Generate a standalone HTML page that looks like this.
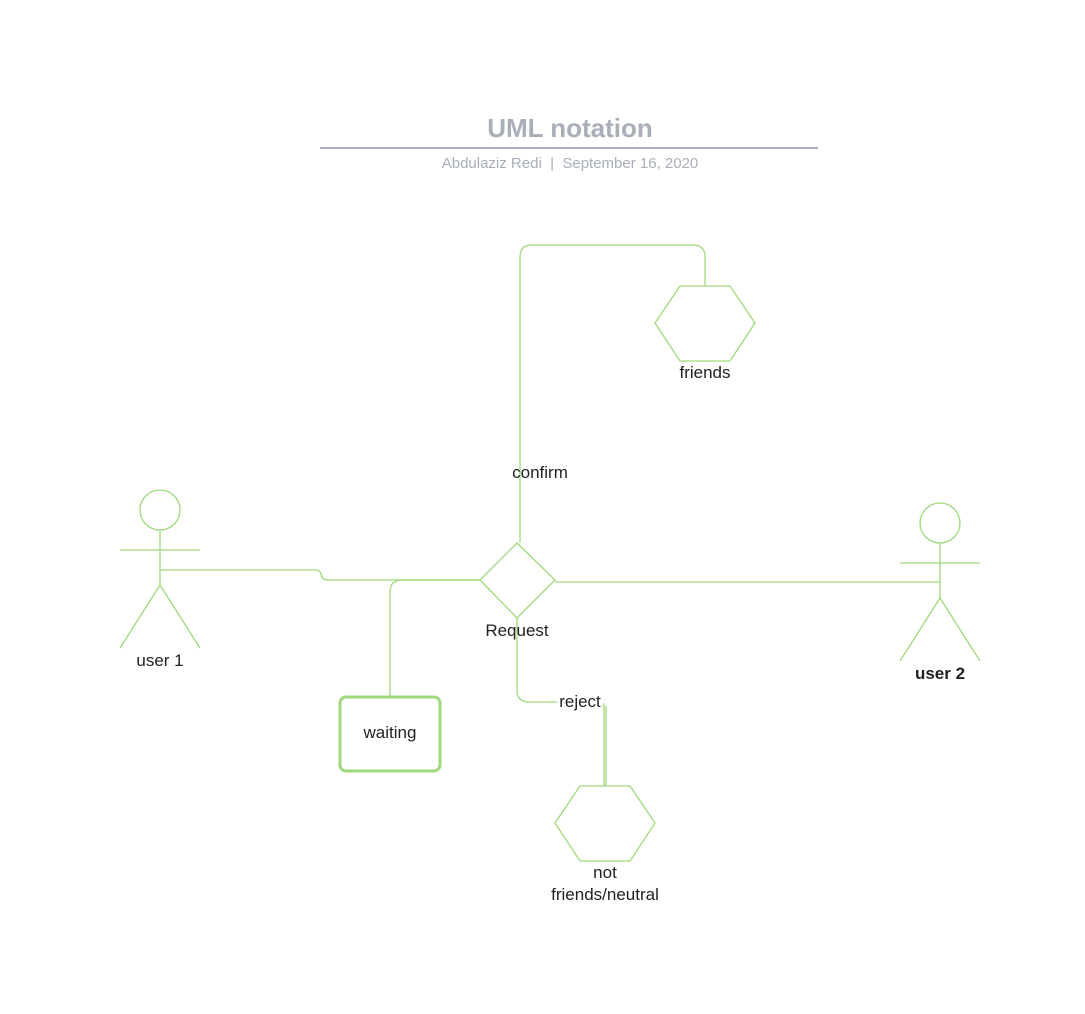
<!DOCTYPE html>
<html><head><style>
html,body{margin:0;padding:0;background:#fff;width:1085px;height:1014px;overflow:hidden}
svg{display:block}
text{font-family:"Liberation Sans",sans-serif}
</style></head><body>
<svg width="1085" height="1014" viewBox="0 0 1085 1014" xmlns="http://www.w3.org/2000/svg">
<text x="570" y="137" text-anchor="middle" font-size="26" font-weight="bold" fill="#a9aeb8">UML notation</text>
<line x1="320" y1="148" x2="818" y2="148" stroke="#a9aeb8" stroke-width="2"/>
<text x="570" y="168" text-anchor="middle" font-size="15" fill="#a9aeb8">Abdulaziz Redi&#160;&#160;|&#160;&#160;September 16, 2020</text>
<g fill="none" stroke="#9fd97a" stroke-width="1.3">
<path d="M520 543 V257 Q520 245 532 245 H693 Q705 245 705 257 V286"/>
<polygon points="680,286 730,286 755,323 730,361 680,361 655,323"/>
<circle cx="160" cy="510" r="20"/>
<line x1="160" y1="530" x2="160" y2="585"/>
<line x1="120" y1="550" x2="200" y2="550"/>
<line x1="160" y1="585" x2="120" y2="648"/>
<line x1="160" y1="585" x2="200" y2="648"/>
<circle cx="940" cy="523" r="20"/>
<line x1="940" y1="543" x2="940" y2="598"/>
<line x1="900" y1="563" x2="980" y2="563"/>
<line x1="940" y1="598" x2="900" y2="661"/>
<line x1="940" y1="598" x2="980" y2="661"/>
<path d="M160 570 H316 Q320 570 321 574 Q322 580 328 580 H480"/>
<path d="M480 580 H402 Q390 580 390 592 V697"/>
<line x1="555" y1="582" x2="940" y2="582"/>
<polygon points="517,543 555,580 517,618 480,580"/>
<path d="M517 618 V690 Q517 702 529 702 H600 Q604 702 604 708 V786"/>
<line x1="606" y1="706" x2="606" y2="786"/>
<polygon points="580,786 630,786 655,823 630,861 580,861 555,823"/>
</g>
<rect x="340" y="697" width="100" height="74" rx="6" fill="none" stroke="#9fd97a" stroke-width="3"/>
<g font-size="17" fill="#222" text-anchor="middle">
<text x="705" y="378">friends</text>
<text x="540" y="478">confirm</text>
<text x="160" y="666">user 1</text>
<text x="940" y="679" font-weight="bold">user 2</text>
<text x="517" y="636">Request</text>
<text x="390" y="738">waiting</text>
<rect x="557" y="692" width="46" height="18" fill="#fff"/>
<text x="580" y="707">reject</text>
<text x="605" y="878">not</text>
<text x="605" y="900">friends/neutral</text>
</g>
</svg>
</body></html>
